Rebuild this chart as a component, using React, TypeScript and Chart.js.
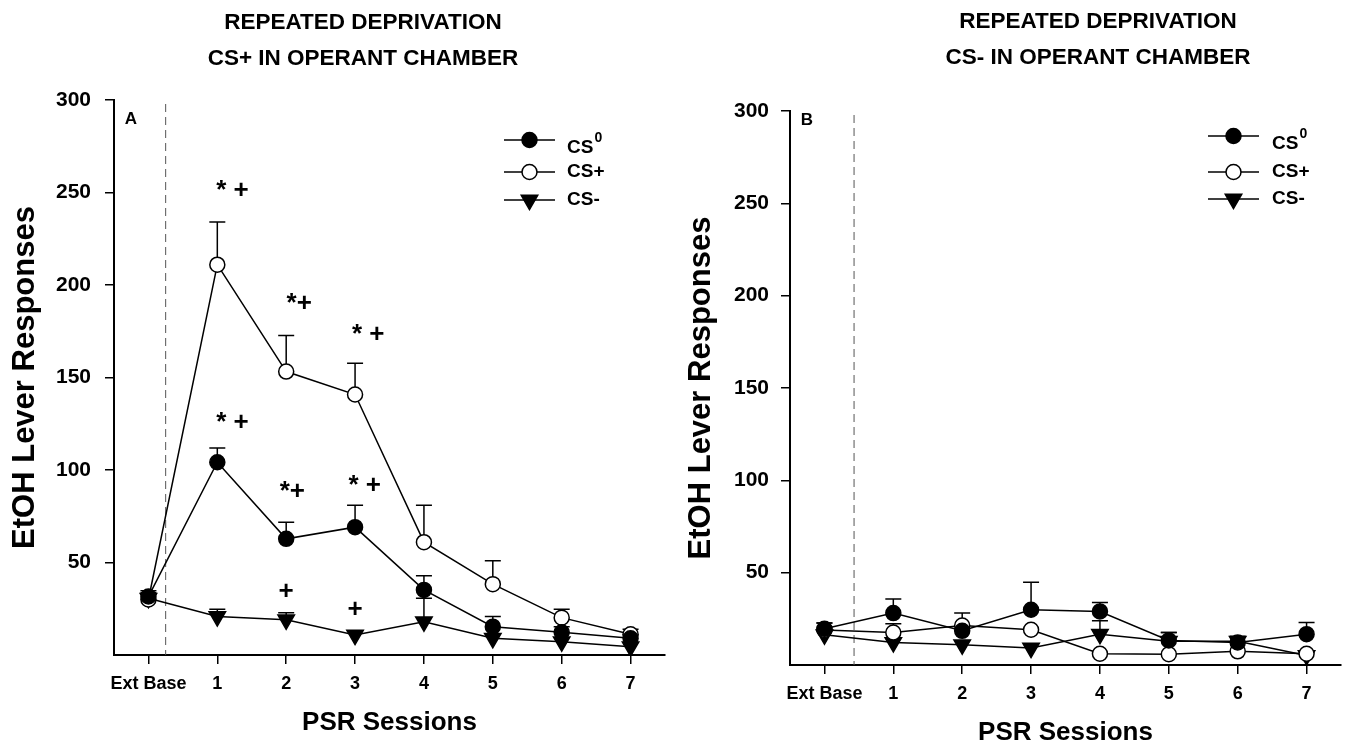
import React, { useEffect, useRef } from 'react';
import { Chart, registerables } from 'chart.js';

Chart.register(...registerables);

const FONT = "'Liberation Sans', Arial, Helvetica, sans-serif";

// ---------- shared ----------
const sessions = ['Ext Base', '1', '2', '3', '4', '5', '6', '7'];
const yTickValues = [0, 50, 100, 150, 200, 250, 300];
const seriesNames = ['CS', 'CS+', 'CS-'];
const seriesSup = ['0', '', ''];

// ---------- Panel A : CS+ in operant chamber ----------
const aTitle = ['REPEATED DEPRIVATION', 'CS+ IN OPERANT CHAMBER'];
const aCS0 = [31.6, 104.2, 62.8, 69.1, 35.2, 15.3, 12.3, 9];
const aCS0Err = [3.1, 7.7, 9, 11.8, 7.6, 5.5, 3, 2];
const aCSplus = [30, 211, 153.2, 140.8, 61, 38.3, 20.2, 11.2];
const aCSplusErr = [3, 23, 19.5, 16.9, 19.9, 12.6, 4.5, 2.7];
const aCSminus = [30.7, 20.8, 19, 10.8, 18, 9, 7.2, 4.5];
const aCSminusErr = [3, 3.9, 3.9, 0, 12.7, 0, 0, 0];
const aMarkText = ['* +', '*+', '* +', '* +', '*+', '* +', '+', '+'];
const aMarkX = [1.22, 2.19, 3.19, 1.22, 2.09, 3.14, 2.0, 3.0];
const aMarkY = [251, 190, 173, 125.5, 88.4, 91.2, 34.3, 24.4];

// ---------- Panel B : CS- in operant chamber ----------
const bTitle = ['REPEATED DEPRIVATION', 'CS- IN OPERANT CHAMBER'];
const bCS0 = [19.6, 28.1, 18.5, 29.9, 29, 13.3, 12.2, 16.7];
const bCS0Err = [3.1, 7.7, 0, 14.9, 4.8, 4.3, 3.3, 6.3];
const bCSplus = [19, 17.6, 21.4, 19.1, 6.1, 5.8, 7.4, 6.1];
const bCSplusErr = [3.7, 4.7, 6.7, 0, 0, 0, 0, 0];
const bCSminus = [16.4, 12.2, 11, 9.2, 16.7, 12.8, 12.8, 5.2];
const bCSminusErr = [0, 0, 0, 0, 7.2, 4.8, 2.7, 0];
const bMarkText: string[] = [];
const bMarkX: number[] = [];
const bMarkY: number[] = [];

const CIRCLE_R = 7.5;
const TRI_R = 9.5;

function drawMarker(ctx: CanvasRenderingContext2D, kind: number, x: number, y: number) {
  ctx.save();
  ctx.lineWidth = 1.5;
  ctx.strokeStyle = '#000';
  if (kind === 2) {
    const r = TRI_R;
    ctx.fillStyle = '#000';
    ctx.beginPath();
    for (let k = 0; k < 3; k++) {
      const a = Math.PI + k * (2 * Math.PI / 3);
      const px = x + Math.sin(a) * r;
      const py = y - Math.cos(a) * r;
      if (k === 0) ctx.moveTo(px, py); else ctx.lineTo(px, py);
    }
    ctx.closePath();
    ctx.fill();
    ctx.stroke();
  } else {
    ctx.fillStyle = kind === 0 ? '#000' : '#fff';
    ctx.beginPath();
    ctx.arc(x, y, CIRCLE_R, 0, Math.PI * 2);
    ctx.fill();
    ctx.stroke();
  }
  ctx.restore();
}

const decorPlugin = {
  id: 'decor',
  beforeDatasetsDraw(chart: any, _args: any, opts: any) {
    const { ctx, chartArea } = chart;
    const xs = chart.scales.x;
    const ys = chart.scales.y;
    // dashed separator
    const dx = xs.getPixelForValue(opts.dashX);
    ctx.save();
    ctx.strokeStyle = '#555';
    ctx.lineWidth = 1;
    ctx.setLineDash([8, 5]);
    ctx.beginPath();
    ctx.moveTo(dx, chartArea.top + 4);
    ctx.lineTo(dx, chartArea.bottom);
    ctx.stroke();
    ctx.restore();
    // error bars (upper only)
    ctx.save();
    ctx.strokeStyle = '#000';
    ctx.lineWidth = 1.5;
    chart.data.datasets.forEach((ds: any) => {
      const errs: number[] = ds.errors || [];
      ds.data.forEach((v: number, j: number) => {
        const e = errs[j];
        if (!e) return;
        const cx = xs.getPixelForValue(j);
        const y0 = ys.getPixelForValue(v);
        const y1 = ys.getPixelForValue(v + e);
        ctx.beginPath();
        ctx.moveTo(cx, y0);
        ctx.lineTo(cx, y1);
        ctx.moveTo(cx - 8, y1);
        ctx.lineTo(cx + 8, y1);
        ctx.stroke();
      });
    });
    ctx.restore();
  },
  afterDraw(chart: any, _args: any, opts: any) {
    const { ctx } = chart;
    const xs = chart.scales.x;
    const ys = chart.scales.y;
    ctx.save();
    ctx.fillStyle = '#000';
    // title
    ctx.font = `bold 22.5px ${FONT}`;
    ctx.textAlign = 'center';
    ctx.textBaseline = 'middle';
    opts.title.forEach((t: string, i: number) => {
      ctx.fillText(t, opts.titleX, opts.titleY[i]);
    });
    // panel letter
    ctx.font = `bold 17px ${FONT}`;
    ctx.fillText(opts.letter, opts.letterX, opts.letterY);
    // significance marks
    ctx.font = `bold 26px ${FONT}`;
    opts.markText.forEach((t: string, i: number) => {
      ctx.fillText(t, xs.getPixelForValue(opts.markX[i]), ys.getPixelForValue(opts.markY[i]));
    });
    // legend
    const L = opts.legend;
    seriesNames.forEach((name, i) => {
      const ry = L.rows[i];
      ctx.save();
      ctx.strokeStyle = '#000';
      ctx.lineWidth = 1.5;
      ctx.beginPath();
      ctx.moveTo(L.x0, ry);
      ctx.lineTo(L.x1, ry);
      ctx.stroke();
      ctx.restore();
      drawMarker(ctx, i, (L.x0 + L.x1) / 2, ry);
      ctx.font = `bold 19px ${FONT}`;
      ctx.textAlign = 'left';
      ctx.textBaseline = 'middle';
      const sup = seriesSup[i];
      const ty = sup ? ry + 8 : ry;
      ctx.fillText(name, L.tx, ty);
      if (sup) {
        const w = ctx.measureText(name).width;
        ctx.font = `bold 14px ${FONT}`;
        ctx.fillText(sup, L.tx + w + 1, ry - 2);
      }
    });
    ctx.restore();
  },
};

type PanelSpec = {
  cs0: number[]; cs0Err: number[];
  csPlus: number[]; csPlusErr: number[];
  csMinus: number[]; csMinusErr: number[];
  title: string[]; titleX: number; titleY: number[];
  letter: string; letterX: number; letterY: number;
  markText: string[]; markX: number[]; markY: number[];
  dashX: number;
  top: number; xHeight: number; xTitlePad: number; yTickPad: number;
  legend: { x0: number; x1: number; tx: number; rows: number[] };
};

function makeConfig(p: PanelSpec): any {
  const base = {
    borderColor: '#000',
    borderWidth: 1.5,
    pointBorderColor: '#000',
    pointBorderWidth: 1.5,
    tension: 0,
    fill: false,
  };
  return {
    type: 'line',
    data: {
      labels: sessions,
      datasets: [
        { ...base, label: seriesNames[0] + seriesSup[0], data: p.cs0, errors: p.cs0Err, pointStyle: 'circle', pointRadius: CIRCLE_R, pointBackgroundColor: '#000', backgroundColor: '#000' },
        { ...base, label: seriesNames[1], data: p.csPlus, errors: p.csPlusErr, pointStyle: 'circle', pointRadius: CIRCLE_R, pointBackgroundColor: '#fff', backgroundColor: '#fff' },
        { ...base, label: seriesNames[2], data: p.csMinus, errors: p.csMinusErr, pointStyle: 'triangle', pointRotation: 180, pointRadius: TRI_R, pointBackgroundColor: '#000', backgroundColor: '#000' },
      ],
    },
    options: {
      animation: false,
      responsive: false,
      events: [],
      layout: { padding: { top: p.top, right: 5, left: 0, bottom: 0 } },
      plugins: {
        legend: { display: false },
        tooltip: { enabled: false },
        title: { display: false },
        decor: {
          dashX: p.dashX,
          title: p.title, titleX: p.titleX, titleY: p.titleY,
          letter: p.letter, letterX: p.letterX, letterY: p.letterY,
          markText: p.markText, markX: p.markX, markY: p.markY,
          legend: p.legend,
        },
      },
      scales: {
        x: {
          type: 'category',
          offset: true,
          grid: { offset: false, drawOnChartArea: false, drawTicks: true, tickLength: 9, color: '#000', lineWidth: 1.5 },
          border: { display: true, color: '#000', width: 2 },
          ticks: { color: '#000', font: { family: FONT, size: 18, weight: 'bold' }, padding: 9, autoSkip: false, maxRotation: 0 },
          title: { display: true, text: 'PSR Sessions', color: '#000', font: { family: FONT, size: 26, weight: 'bold' }, padding: { top: 0, bottom: p.xTitlePad } },
          afterFit: (s: any) => { s.height = p.xHeight; },
        },
        y: {
          type: 'linear',
          min: 0,
          max: 300,
          afterBuildTicks: (s: any) => { s.ticks = yTickValues.map((v) => ({ value: v })); },
          grid: {
            drawOnChartArea: false, drawTicks: true, tickLength: 9, lineWidth: 1.5,
            color: (c: any) => (c.tick && c.tick.value === 0 ? 'rgba(0,0,0,0)' : '#000'),
          },
          border: { display: true, color: '#000', width: 2 },
          ticks: {
            color: '#000', font: { family: FONT, size: 21, weight: 'bold' }, padding: p.yTickPad,
            callback: (v: any) => (v === 0 ? '' : String(v)),
          },
          title: { display: true, text: 'EtOH Lever Responses', color: '#000', font: { family: FONT, size: 31, weight: 'bold' }, padding: { top: 7, bottom: 0 } },
          afterFit: (s: any) => { s.width = 114; },
        },
      },
    },
    plugins: [decorPlugin],
  };
}

function Panel({ spec, left }: { spec: PanelSpec; left: number }) {
  const ref = useRef<HTMLCanvasElement | null>(null);
  useEffect(() => {
    if (!ref.current) return;
    const chart = new Chart(ref.current, makeConfig(spec));
    return () => chart.destroy();
  }, [spec]);
  return (
    <div style={{ position: 'absolute', left, top: 0, width: 676, height: 750 }}>
      <canvas ref={ref} width={676} height={750} style={{ width: 676, height: 750, display: 'block' }} />
    </div>
  );
}

const specA: PanelSpec = {
  cs0: aCS0, cs0Err: aCS0Err, csPlus: aCSplus, csPlusErr: aCSplusErr, csMinus: aCSminus, csMinusErr: aCSminusErr,
  title: aTitle, titleX: 363, titleY: [23, 59],
  letter: 'A', letterX: 131, letterY: 119,
  markText: aMarkText, markX: aMarkX, markY: aMarkY,
  dashX: 0.25,
  top: 100, xHeight: 95, xTitlePad: 12, yTickPad: 14,
  legend: { x0: 504, x1: 555, tx: 567, rows: [140, 172, 200] },
};

const specB: PanelSpec = {
  cs0: bCS0, cs0Err: bCS0Err, csPlus: bCSplus, csPlusErr: bCSplusErr, csMinus: bCSminus, csMinusErr: bCSminusErr,
  title: bTitle, titleX: 422, titleY: [22, 58],
  letter: 'B', letterX: 131, letterY: 120,
  markText: bMarkText, markX: bMarkX, markY: bMarkY,
  dashX: 0.43,
  top: 111, xHeight: 85, xTitlePad: 2, yTickPad: 12,
  legend: { x0: 532, x1: 583, tx: 596, rows: [136, 172, 199] },
};

export default function App() {
  return (
    <div style={{ position: 'absolute', left: 0, top: 0, width: 1352, height: 750, background: '#fff', overflow: 'hidden' }}>
      <Panel spec={specA} left={0} />
      <Panel spec={specB} left={676} />
    </div>
  );
}
